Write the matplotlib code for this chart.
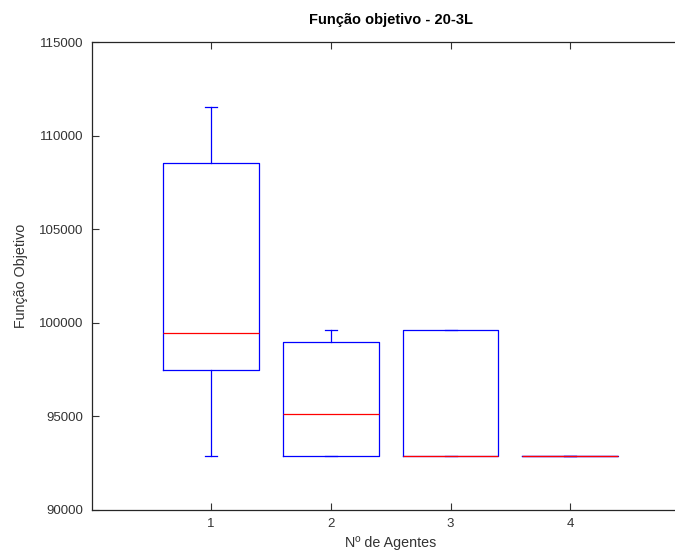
import matplotlib
matplotlib.use("Agg")
import matplotlib.pyplot as plt

# valores
agentes = [1, 2, 3, 4]
whis_lo = [92870, 92856, 92856, 92856]
q1 = [97456, 92856, 92856, 92856]
medianas = [99467, 95135, 92856, 92856]
q3 = [108528, 98954, 99628, 92856]
whis_hi = [111555, 99628, 99628, 92856]

plt.rcParams['font.family'] = ['Liberation Sans', 'DejaVu Sans']

fig = plt.figure(figsize=(6.75, 5.52), dpi=100)
# o eixo passa da borda direita (imagem original recortada)
ax = fig.add_axes([91.5 / 675, 42.3 / 552, 598.5 / 675, 467.4 / 552])

stats = []
for i in range(len(agentes)):
    stats.append(dict(whislo=whis_lo[i], q1=q1[i], med=medianas[i],
                      q3=q3[i], whishi=whis_hi[i], fliers=[]))

ax.bxp(stats, positions=agentes, widths=0.8, showfliers=False,
       boxprops=dict(color='blue', linewidth=0.9),
       whiskerprops=dict(color='blue', linewidth=0.9),
       capprops=dict(color='blue', linewidth=0.9),
       medianprops=dict(color='red', linewidth=0.9),
       capwidths=0.1)

ax.set_xlim(0, 5)
ax.set_ylim(90000, 115000)
ax.set_xticks(agentes)
ax.set_xticklabels([str(a) for a in agentes])
ax.set_yticks(range(90000, 115001, 5000))

ax.tick_params(direction='in', length=5, width=0.8, colors='#333333',
               labelsize=9.5, top=True, right=True, pad=6)
for s in ax.spines.values():
    s.set_color('#262626')
    s.set_linewidth(0.9)

ax.set_title("Função objetivo - 20-3L", fontsize=10.5, fontweight='bold', pad=13)
ax.set_xlabel("Nº de Agentes", fontsize=10.3, color='#333333', labelpad=4)
ax.set_ylabel("Função Objetivo", fontsize=10.3, color='#333333', labelpad=8)

fig.savefig("out.png", dpi=100)
